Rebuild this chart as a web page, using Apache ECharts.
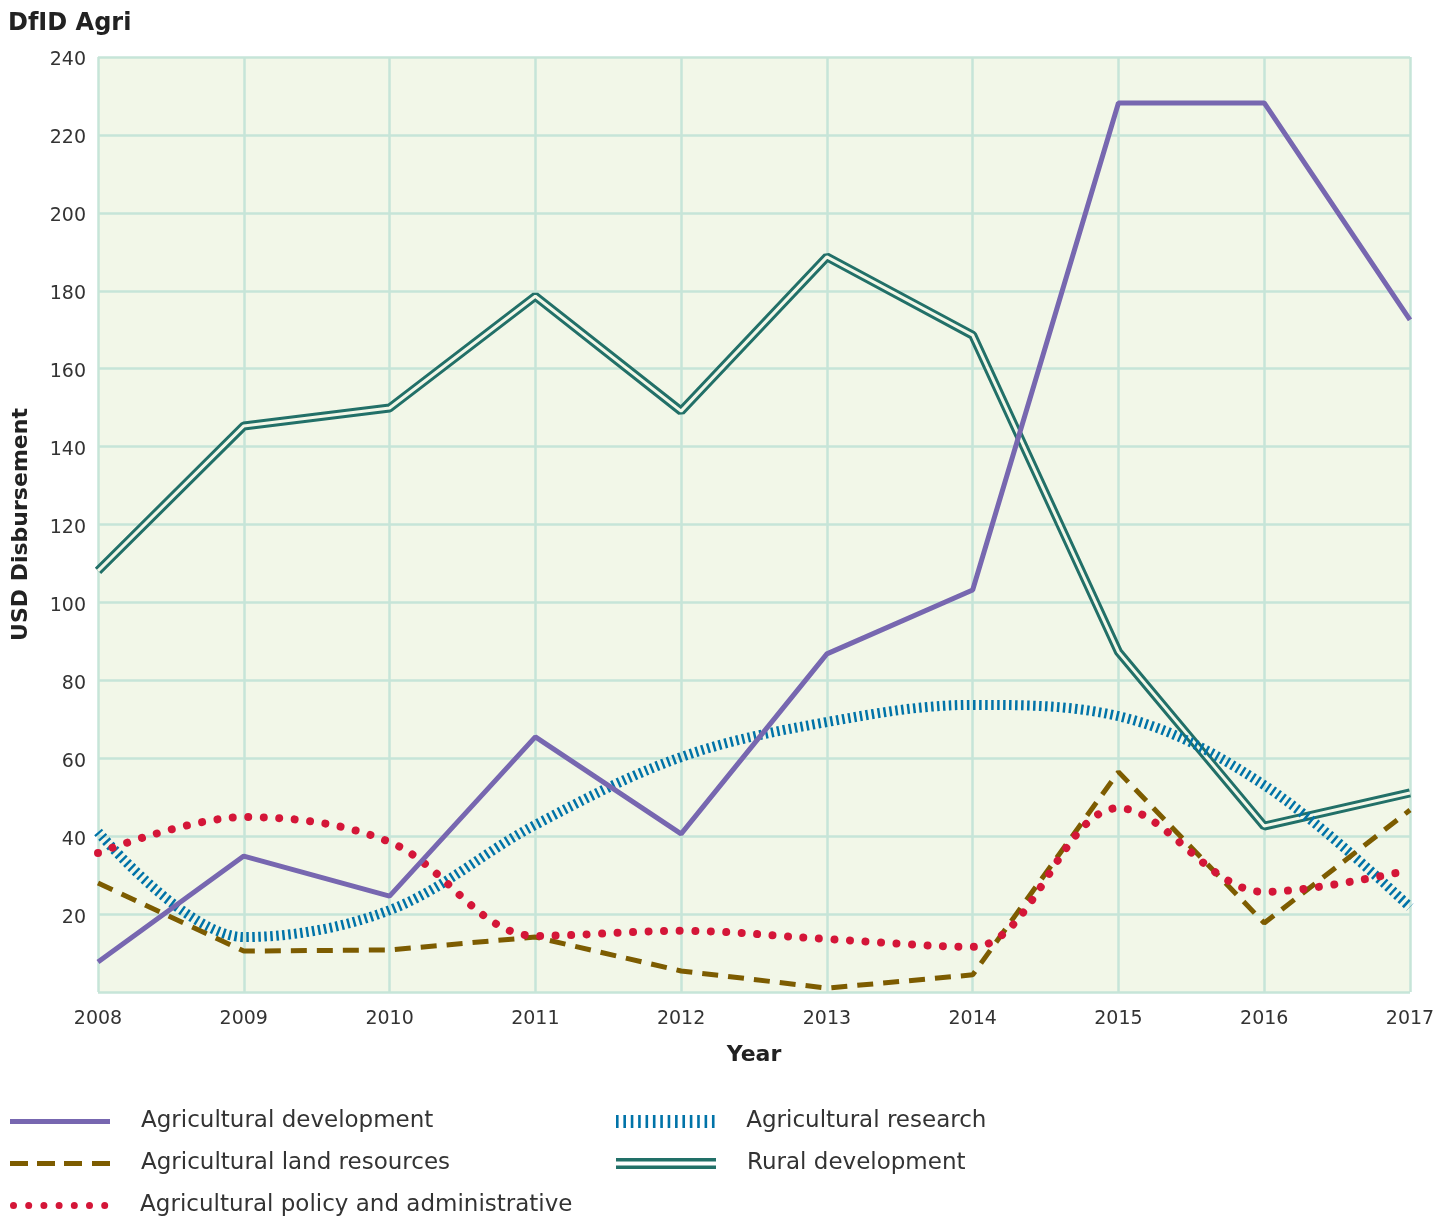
<!DOCTYPE html>
<html><head><meta charset="utf-8">
<script src="https://cdn.jsdelivr.net/npm/echarts@6/dist/echarts.min.js"></script>
<style>html,body{margin:0;padding:0;background:#fff}#c{width:1449px;height:1216px}</style>
</head><body><div id="c"></div>
<script>
const years = ['2008','2009','2010','2011','2012','2013','2014','2015','2016','2017'];
const yTicks = [0,20,40,60,80,100,120,140,160,180,200,220,240];
const agriDev = [7.7,34.9,24.6,65.5,40.6,86.8,103.2,228.2,228.2,172.5];
const landRes = [28.0,10.5,10.8,14.1,5.4,1.0,4.4,56.5,17.7,46.7];
const policy = [35.7,44.9,38.5,14.4,15.7,13.6,11.6,47.2,25.7,31.3];
const research = [41.1,14.1,21.0,42.9,60.3,69.3,73.7,70.8,53.1,21.8];
const rural = [108.1,145.3,149.9,178.6,149.1,188.7,168.6,87.3,42.6,51.1];

const FONT = 'DejaVu Sans';
const BG = '#f2f7e8';
const GRID = '#c6e5d8';
const C = {dev:'#7767b0', land:'#7d5c00', pol:'#d41638', res:'#0073a8', rur:'#227068'};

// legend icon paths
function dotsPath(){
  let s='path://';
  for(let i=0;i<7;i++){const cx=3.5+i*15.2; s+=`M${cx-3.5},3.5A3.5,3.5 0 1,0 ${cx+3.5},3.5A3.5,3.5 0 1,0 ${cx-3.5},3.5Z `;}
  return s;
}
function ticksPath(){
  let s='path://';
  for(let i=0;i<14;i++){const x=i*7.38; s+=`M${x},0H${x+2.6}V13H${x}Z `;}
  return s;
}
const ICON = {
  dev:'path://M0,0H100V5H0Z',
  land:'path://M0,0H18V5H0Z M27,0H45V5H27Z M54,0H72V5H54Z M82,0H100V5H82Z',
  pol:dotsPath(),
  res:ticksPath(),
  rur:'path://M0,0H100V3.5H0Z M0,7.5H100V11H0Z'
};

const chart = echarts.init(document.getElementById('c'), null, {renderer:'canvas'});
function lg(left, top, name, icon, h, color){
  return {orient:'vertical', left, top, itemWidth:100, itemHeight:h, itemGap:0, selectedMode:false,
    textStyle:{fontFamily:FONT, fontSize:23, color:'#333', padding:[0,0,0,26]},
    data:[{name, icon, itemStyle:{color, borderWidth:0}}]};
}
chart.setOption({
  backgroundColor:'#fff',
  animation:false,
  textStyle:{fontFamily:FONT},
  title:{text:'DfID Agri', left:3, top:7, textStyle:{fontFamily:FONT, fontSize:24, fontWeight:'bold', color:'#222'}},
  grid:{left:98, right:39, top:57, bottom:224, show:true, backgroundColor:BG, borderWidth:0},
  xAxis:{type:'category', data:years, boundaryGap:false,
    name:'Year', nameLocation:'middle', nameGap:52,
    nameTextStyle:{fontFamily:FONT, fontSize:22, fontWeight:'bold', color:'#222'},
    axisLine:{show:false}, axisTick:{show:false},
    axisLabel:{fontFamily:FONT, fontSize:19, color:'#333', margin:18},
    splitLine:{show:true, lineStyle:{color:GRID, width:2.5}}},
  yAxis:{type:'value', min:0, max:240, interval:20,
    name:'USD Disbursement', nameLocation:'middle', nameGap:66,
    nameTextStyle:{fontFamily:FONT, fontSize:22, fontWeight:'bold', color:'#222'},
    axisLine:{show:false}, axisTick:{show:false},
    axisLabel:{fontFamily:FONT, fontSize:19, color:'#333', margin:12,
      formatter:v => (v===0 ? '' : '{a|' + v + '}'),
      rich:{a:{fontFamily:FONT, fontSize:19, color:'#333', padding:[7,0,0,0]}}},
    splitLine:{show:true, lineStyle:{color:GRID, width:2.5}}},
  legend:[
    lg(5, 1105, 'Agricultural development', ICON.dev, 5, C.dev),
    lg(5, 1147, 'Agricultural land resources', ICON.land, 5, C.land),
    lg(5, 1189, 'Agricultural policy and administrative', ICON.pol, 7, C.pol),
    lg(611, 1105, 'Agricultural research', ICON.res, 13, C.res),
    lg(611, 1147, 'Rural development', ICON.rur, 11, C.rur)
  ],
  series:[
    {name:'Rural development', type:'line', data:rural, symbol:'none', z:2,
      lineStyle:{color:C.rur, width:9}, itemStyle:{color:C.rur}},
    {name:'rural-inner', type:'line', data:rural, symbol:'none', z:2,
      lineStyle:{color:BG, width:3}, itemStyle:{color:BG}, silent:true},
    {name:'Agricultural research', type:'line', data:research, symbol:'none', smooth:0.35, z:3,
      lineStyle:{color:C.res, width:10, type:[2.5,3.5]}, itemStyle:{color:C.res}},
    {name:'Agricultural land resources', type:'line', data:landRes, symbol:'none', z:4,
      lineStyle:{color:C.land, width:5, type:[16,10]}, itemStyle:{color:C.land}},
    {name:'Agricultural policy and administrative', type:'line', data:policy, symbol:'none', smooth:0.35, z:5,
      lineStyle:{color:C.pol, width:8, type:[0.01,15.5], cap:'round'}, itemStyle:{color:C.pol}},
    {name:'Agricultural development', type:'line', data:agriDev, symbol:'none', z:6,
      lineStyle:{color:C.dev, width:5}, itemStyle:{color:C.dev}}
  ]
});
</script></body></html>
